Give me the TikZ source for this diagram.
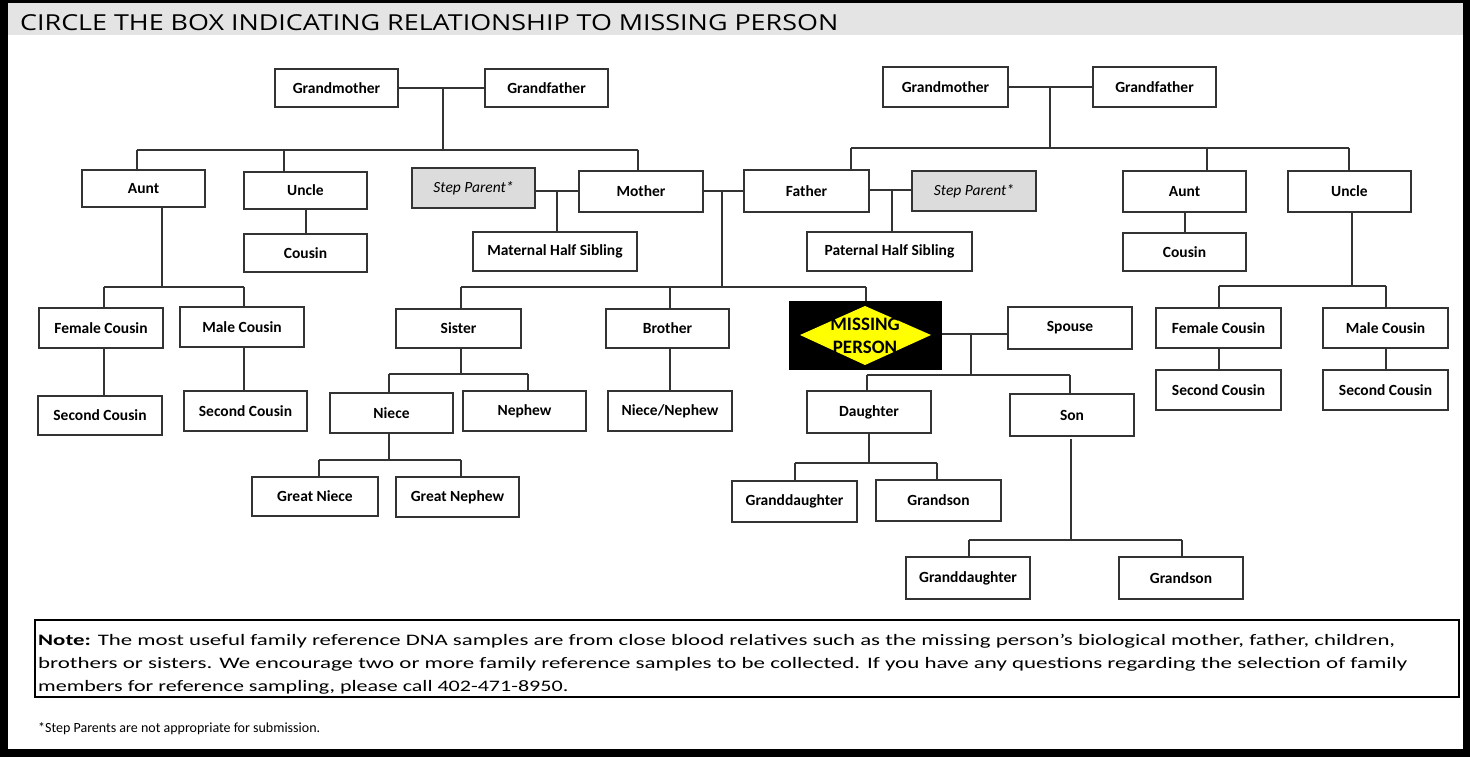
\documentclass[tikz,border=0pt]{standalone}
\usepackage{fontspec}
\setmainfont{Carlito}
\newfontfamily\hdrfont{Open Sans}
\usepackage{graphicx}
\definecolor{hdrgray}{RGB}{228,228,228}
\definecolor{stepgray}{RGB}{220,220,220}
\definecolor{mpyellow}{RGB}{255,255,0}
\tikzset{
  famb/.style={draw=black!80, line width=1.6pt, fill=white, inner sep=0pt,
    font=\fontsize{15.5}{18}\selectfont\bfseries, align=center},
  stepb/.style={fill=stepgray, font=\fontsize{15.5}{18}\selectfont\itshape},
  conn/.style={draw=black!80, line width=1.6pt},
  txt/.style={inner sep=0pt, anchor=base west, font=\fontsize{16}{19}\selectfont},
}
\newcommand{\bx}[7][]{\node[famb,#1,minimum width={#5-#3},minimum height={#6-#4}] (#2) at ({(#3+#5)/2},{(#4+#6)/2}) {#7};}
\begin{document}
\begin{tikzpicture}[x=1pt,y=-1pt]
\useasboundingbox (0,0) rectangle (1470,757);
\fill[black] (0,0) rectangle (1470,757);
\fill[white] (8,3) rectangle (1463,749);
\fill[hdrgray] (8,3) rectangle (1463,35);
\node[inner sep=0pt, anchor=base west] (hdr) at (20,31) {\resizebox{818pt}{\height}{\hdrfont\fontsize{22}{26}\selectfont CIRCLE THE BOX INDICATING RELATIONSHIP TO MISSING PERSON}};

% boxes
\bx{gmL}{275}{69}{398}{107}{Grandmother}
\bx{gfL}{485}{69}{608}{107}{Grandfather}
\bx{auntL}{82}{170}{205}{207}{Aunt}
\bx{uncL}{244}{172}{367}{209}{Uncle}
\bx{cousL}{244}{234}{367}{272}{Cousin}
\bx{fcL}{39}{308}{163}{348}{Female Cousin}
\bx{mcL}{180}{307}{304}{347}{Male Cousin}
\bx{scL1}{38}{396}{162}{435}{Second Cousin}
\bx{scL2}{184}{391}{307}{431}{Second Cousin}
\bx[stepb]{spL}{412}{168}{535}{208}{Step Parent*}
\bx{mother}{579}{171}{703}{212}{Mother}
\bx{mhs}{473}{232}{637}{271}{Maternal Half Sibling}
\bx{father}{744}{170}{869}{212}{Father}
\bx[stepb]{spR}{912}{171}{1036}{211}{Step Parent*}
\bx{phs}{807}{232}{972}{271}{Paternal Half Sibling}
\bx{gmR}{883}{67}{1008}{107}{Grandmother}
\bx{gfR}{1093}{67}{1216}{107}{Grandfather}
\bx{auntR}{1123}{171}{1246}{212}{Aunt}
\bx{cousR}{1123}{233}{1246}{271}{Cousin}
\bx{uncR}{1288}{171}{1411}{212}{Uncle}
\bx{fcR}{1156}{308}{1281}{348}{Female Cousin}
\bx{mcR}{1323}{308}{1448}{348}{Male Cousin}
\bx{scR1}{1156}{370}{1281}{410}{Second Cousin}
\bx{scR2}{1323}{370}{1448}{410}{Second Cousin}
\bx{sister}{396}{309}{521}{348}{Sister}
\bx{brother}{606}{309}{729}{348}{Brother}
\bx{niece}{330}{393}{453}{433}{Niece}
\bx{nephew}{463}{391}{586}{431}{Nephew}
\bx{nn}{608}{391}{732}{431}{Niece/Nephew}
\bx{gniece}{252}{477}{378}{516}{Great Niece}
\bx{gnephew}{396}{477}{519}{517}{Great Nephew}
\bx{spouse}{1008}{307}{1132}{349}{Spouse}
\bx{daughter}{807}{391}{931}{433}{Daughter}
\bx{son}{1010}{394}{1134}{436}{Son}
\bx{gd1}{732}{481}{857}{522}{Granddaughter}
\bx{gs1}{876}{480}{1001}{521}{Grandson}
\bx{gd2}{906}{557}{1030}{599}{Granddaughter}
\bx{gs2}{1119}{557}{1243}{599}{Grandson}

% missing person
\node[fill=black, inner sep=0pt, minimum width=153, minimum height=69] (mp) at (865.5,335.5) {};
\fill[mpyellow] (800,335) -- (865,306) -- (931,335) -- (865,365) -- cycle;
\node[inner sep=0pt, align=center, font=\fontsize{19}{23}\selectfont\bfseries] (mptxt) at (865,336) {MISSING\\PERSON};

% left grandparents
\coordinate (jL) at (443,88);
\coordinate (bL1) at (137,150); \coordinate (bL2) at (638,150); \coordinate (dUncL) at (284,150);
\draw[conn] (gmL.east) -- (gfL.west);
\draw[conn] (jL) -- (jL |- bL1);
\draw[conn] (bL1) -- (bL2);
\draw[conn] (bL1) -- (bL1 |- auntL.north);
\draw[conn] (dUncL) -- (dUncL |- uncL.north);
\draw[conn] (bL2) -- (bL2 |- mother.north);
\coordinate (jUL) at (306,220);
\draw[conn] (jUL |- uncL.south) -- (jUL |- cousL.north);
\coordinate (jAL) at (162,287);
\coordinate (bAL1) at (104,287); \coordinate (bAL2) at (244,287);
\draw[conn] (jAL |- auntL.south) -- (jAL);
\draw[conn] (bAL1) -- (bAL2);
\draw[conn] (bAL1) -- (bAL1 |- fcL.north);
\draw[conn] (bAL2) -- (bAL2 |- mcL.north);
\draw[conn] (bAL1 |- fcL.south) -- (bAL1 |- scL1.north);
\draw[conn] (bAL2 |- mcL.south) -- (bAL2 |- scL2.north);

% mother / father
\coordinate (jSM) at (557,191);
\draw[conn] (jSM -| spL.east) -- (jSM -| mother.west);
\draw[conn] (jSM) -- (jSM |- mhs.north);
\coordinate (jMF) at (722,191);
\draw[conn] (jMF -| mother.east) -- (jMF -| father.west);
\coordinate (bS1) at (461,287); \coordinate (bS2) at (866,287); \coordinate (dBro) at (670,287);
\draw[conn] (jMF) -- (jMF |- bS1);
\draw[conn] (bS1) -- (bS2);
\draw[conn] (bS1) -- (bS1 |- sister.north);
\draw[conn] (dBro) -- (dBro |- brother.north);
\draw[conn] (bS2) -- (bS2 |- mp.north);
\coordinate (jFS) at (892,190);
\draw[conn] (jFS -| father.east) -- (jFS -| spR.west);
\draw[conn] (jFS) -- (jFS |- phs.north);

% right grandparents
\coordinate (jR) at (1050,87);
\coordinate (bR1) at (851,148); \coordinate (bR2) at (1349,148); \coordinate (dAuntR) at (1207,148);
\draw[conn] (gmR.east) -- (gfR.west);
\draw[conn] (jR) -- (jR |- bR1);
\draw[conn] (bR1) -- (bR2);
\draw[conn] (bR1) -- (bR1 |- father.north);
\draw[conn] (dAuntR) -- (dAuntR |- auntR.north);
\draw[conn] (bR2) -- (bR2 |- uncR.north);
\coordinate (jAR) at (1185,220);
\draw[conn] (jAR |- auntR.south) -- (jAR |- cousR.north);
\coordinate (jUR) at (1352,286);
\coordinate (bUR1) at (1219,286); \coordinate (bUR2) at (1386,286);
\draw[conn] (jUR |- uncR.south) -- (jUR);
\draw[conn] (bUR1) -- (bUR2);
\draw[conn] (bUR1) -- (bUR1 |- fcR.north);
\draw[conn] (bUR2) -- (bUR2 |- mcR.north);
\draw[conn] (bUR1 |- fcR.south) -- (bUR1 |- scR1.north);
\draw[conn] (bUR2 |- mcR.south) -- (bUR2 |- scR2.north);

% siblings
\coordinate (bN1) at (389,374); \coordinate (bN2) at (528,374);
\draw[conn] (bS1 |- sister.south) -- (bS1 |- bN1);
\draw[conn] (bN1) -- (bN2);
\draw[conn] (bN1) -- (bN1 |- niece.north);
\draw[conn] (bN2) -- (bN2 |- nephew.north);
\draw[conn] (dBro |- brother.south) -- (dBro |- nn.north);
\coordinate (bGN1) at (319,460); \coordinate (bGN2) at (461,460);
\draw[conn] (bN1 |- niece.south) -- (bN1 |- bGN1);
\draw[conn] (bGN1) -- (bGN2);
\draw[conn] (bGN1) -- (bGN1 |- gniece.north);
\draw[conn] (bGN2) -- (bGN2 |- gnephew.north);

% spouse and children
\coordinate (jMS) at (971,334);
\draw[conn] (jMS -| mp.east) -- (jMS -| spouse.west);
\coordinate (bC1) at (867,375); \coordinate (bC2) at (1070,375);
\draw[conn] (jMS) -- (jMS |- bC1);
\draw[conn] (bC1) -- (bC2);
\draw[conn] (bC1) -- (bC1 |- daughter.north);
\draw[conn] (bC2) -- (bC2 |- son.north);
\coordinate (jD) at (869,463);
\coordinate (bD1) at (795,463); \coordinate (bD2) at (937,463);
\draw[conn] (jD |- daughter.south) -- (jD);
\draw[conn] (bD1) -- (bD2);
\draw[conn] (bD1) -- (bD1 |- gd1.north);
\draw[conn] (bD2) -- (bD2 |- gs1.north);
\coordinate (sTop) at (1071,439); \coordinate (jS) at (1071,540);
\coordinate (bSn1) at (969,540); \coordinate (bSn2) at (1182,540);
\draw[conn] (sTop) -- (jS);
\draw[conn] (bSn1) -- (bSn2);
\draw[conn] (bSn1) -- (bSn1 |- gd2.north);
\draw[conn] (bSn2) -- (bSn2 |- gs2.north);

% note
\node[draw=black, line width=2.2pt, inner sep=0pt, minimum width=1424, minimum height=77] (note) at (747,658.5) {};
\node[txt] (n1) at (38,645) {\resizebox{1357pt}{\height}{\textbf{Note:} The most useful family reference DNA samples are from close blood relatives such as the missing person’s biological mother, father, children,}};
\node[txt] (n2) at (38,668) {\resizebox{1369pt}{\height}{brothers or sisters. We encourage two or more family reference samples to be collected. If you have any questions regarding the selection of family}};
\node[txt] (n3) at (38,691) {\resizebox{530pt}{\height}{members for reference sampling, please call 402-471-8950.}};
\node[txt, font=\fontsize{14}{17}\selectfont] (foot) at (38,732) {*Step Parents are not appropriate for submission.};
\end{tikzpicture}
\end{document}
